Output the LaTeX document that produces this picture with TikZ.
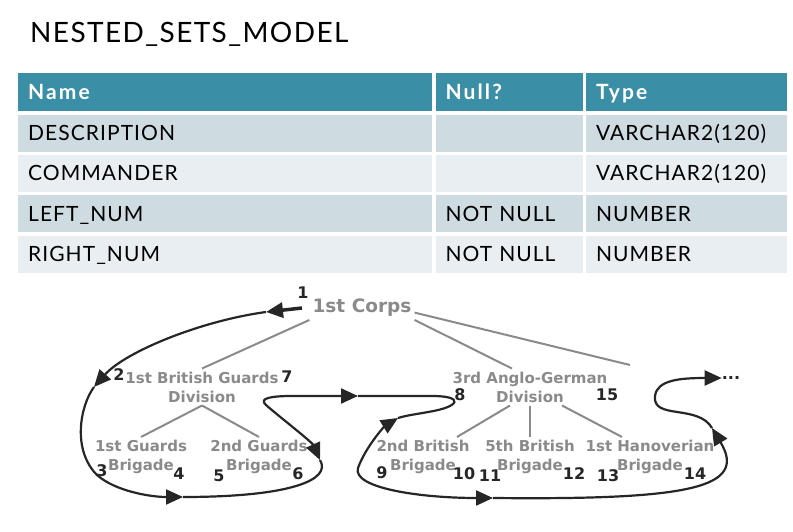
\documentclass[tikz,border=0pt]{standalone}
\usepackage{fontspec}
\setmainfont{Lato}[LetterSpace=5, BoldFeatures={LetterSpace=10}]
\newfontfamily\sketchfont{DejaVu Sans}
\usetikzlibrary{positioning, arrows.meta}
\definecolor{hdrteal}{HTML}{3A8FA6}
\definecolor{rowdark}{HTML}{CEDBE1}
\definecolor{rowlight}{HTML}{E8EEF1}
\definecolor{pencil}{HTML}{8A8A8A}
\definecolor{ink}{HTML}{262626}

\begin{document}
\begin{tikzpicture}[
        x=1pt, y=-1pt,
        cell/.style={inner xsep=10pt, inner ysep=0pt, minimum height=37pt, text height=15pt, text depth=0pt, align=left, font=\fontsize{21}{24}\selectfont},
        hdr/.style={cell, fill=hdrteal, text=white, minimum height=38pt, font=\fontsize{21}{24}\selectfont\bfseries},
        oddrow/.style={cell, fill=rowdark},
        evenrow/.style={cell, fill=rowlight},
        colname/.style={text width=394pt},
        colnull/.style={text width=127pt},
        coltype/.style={text width=181pt},
        unit/.style={text=pencil, align=center, inner sep=3pt, font=\sketchfont\bfseries\fontsize{15}{19}\selectfont},
        num/.style={text=ink, inner sep=0pt, font=\sketchfont\bfseries\fontsize{16}{16}\selectfont},
        branch/.style={draw=pencil, line width=2pt},
        trail/.style={draw=ink, line width=2.2pt},
        walk/.style={trail, -{Triangle[length=17pt,width=15pt]}},
        walkback/.style={trail, {Triangle[length=17pt,width=15pt]}-{Triangle[length=17pt,width=15pt]}},
        ]
      \useasboundingbox (0,0) rectangle (793,532);
      \node [anchor=base west, inner sep=0pt, font=\fontsize{28}{32}\selectfont] (title) at (30,43) {NESTED\_SETS\_MODEL};

      % table
      \node [hdr, colname, anchor=north west] (hname) at (18,73) {Name};
      \node [hdr, colnull, right=3pt of hname] (hnull) {Null?};
      \node [hdr, coltype, right=3pt of hnull] (htype) {Type};
      \node [oddrow, colname, below=3pt of hname] (desc) {DESCRIPTION};
      \node [oddrow, colnull, below=3pt of hnull] (descnull) {};
      \node [oddrow, coltype, below=3pt of htype] (desctype) {VARCHAR2(120)};
      \node [evenrow, colname, below=3pt of desc] (cmdr) {COMMANDER};
      \node [evenrow, colnull, below=3pt of descnull] (cmdrnull) {};
      \node [evenrow, coltype, below=3pt of desctype] (cmdrtype) {VARCHAR2(120)};
      \node [oddrow, colname, below=3pt of cmdr] (lnum) {LEFT\_NUM};
      \node [oddrow, colnull, below=3pt of cmdrnull] (lnumnull) {NOT NULL};
      \node [oddrow, coltype, below=3pt of cmdrtype] (lnumtype) {NUMBER};
      \node [evenrow, colname, below=3pt of lnum] (rnum) {RIGHT\_NUM};
      \node [evenrow, colnull, below=3pt of lnumnull] (rnumnull) {NOT NULL};
      \node [evenrow, coltype, below=3pt of lnumtype] (rnumtype) {NUMBER};

      % tree
      \node [unit, font=\sketchfont\bfseries\fontsize{18.5}{24}\selectfont] (corps) at (362,308) {1st Corps};
      \node [unit] (bgdiv) at (202,387) {1st British Guards\\Division};
      \node [unit] (agdiv) at (530,387) {3rd Anglo-German\\Division};
      \node [unit] (gdbrig1) at (141,457) {1st Guards\\Brigade};
      \node [unit] (gdbrig2) at (259,457) {2nd Guards\\Brigade};
      \node [unit] (brbrig2) at (423,457) {2nd British\\Brigade};
      \node [unit] (brbrig5) at (530,457) {5th British\\Brigade};
      \node [unit] (hanbrig1) at (650,457) {1st Hanoverian\\Brigade};
      \coordinate (corpsgap) at (630,365);

      \draw [branch] (corps.south west) -- (bgdiv.north);
      \draw [branch] (corps.south east) -- ([xshift=-18pt]agdiv.north);
      \draw [branch] (corps.-5) -- (corpsgap);
      \draw [branch] (bgdiv.south) -- (gdbrig1.north);
      \draw [branch] (bgdiv.south) -- (gdbrig2.north);
      \draw [branch] ([xshift=-20pt]agdiv.south) -- ([xshift=34pt]brbrig2.north);
      \draw [branch] (agdiv.south) -- (brbrig5.north);
      \draw [branch] ([xshift=32pt]agdiv.south) -- ([xshift=-28pt]hanbrig1.north);

      % left and right numbers
      \node [num] (n1) at (303,293) {1};
      \node [num] (n2) at (119,375) {2};
      \node [num] (n3) at (102,471) {3};
      \node [num] (n4) at (179,474) {4};
      \node [num] (n5) at (219,476) {5};
      \node [num] (n6) at (298,474) {6};
      \node [num] (n7) at (287,377) {7};
      \node [num] (n8) at (460,395) {8};
      \node [num] (n9) at (382,473) {9};
      \node [num] (n10) at (464,474) {10};
      \node [num] (n11) at (490,476) {11};
      \node [num] (n12) at (574,474) {12};
      \node [num] (n13) at (608,476) {13};
      \node [num] (n14) at (695,474) {14};
      \node [num] (n15) at (607,395) {15};
      \node [num] (dots) at (731,378) {...};

      % walk round the tree
      \coordinate (start) at (302,308);
      \coordinate (tip1) at (266,312);
      \coordinate (tip2) at (94,387);
      \coordinate (tip3) at (183,497);
      \coordinate (tip4) at (320,460);
      \coordinate (tip5) at (358,396);
      \coordinate (tip6) at (398,418);
      \coordinate (tip7) at (493,498);
      \coordinate (tip8) at (712,428);

      \draw [walk, line width=3.5pt] (start) -- (tip1);
      \draw [walk] (tip1) .. controls (200,321) and (125,352) .. (tip2);
      \draw [walk] (tip2) .. controls (80,406) and (72,450) .. (97,475) .. controls (115,491) and (150,497) .. (tip3);
      \draw [trail] (tip3) .. controls (290,497) and (332,480) .. (tip4);
      \draw [walkback] (tip4) .. controls (312,442) and (276,414) .. (266,405) .. controls (258,398) and (272,396) .. (292,396) -- (tip5);
      \draw [trail] (tip5) -- (432,396) .. controls (465,396) and (460,407) .. (428,412) .. controls (418,414) and (408,415) .. (tip6);
      \draw [walkback] (tip6) .. controls (385,426) and (366,446) .. (358,468) .. controls (352,488) and (420,498) .. (tip7);
      \draw [walk] (tip7) .. controls (690,500) and (748,488) .. (tip8);
      \draw [walk] (tip8) .. controls (698,404) and (652,420) .. (655,396) .. controls (657,380) and (680,378) .. (dots.west);
    \end{tikzpicture}
\end{document}
